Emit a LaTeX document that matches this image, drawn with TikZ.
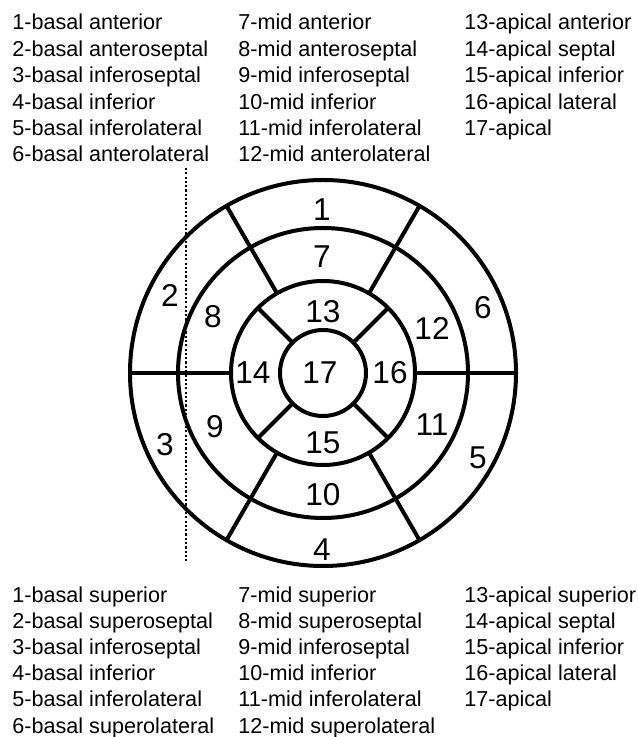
\documentclass[tikz,border=0pt]{standalone}
\usepackage{fontspec}
\setmainfont{Liberation Sans}
\begin{document}
\begin{tikzpicture}[x=0.5pt,y=0.5pt,
    ring/.style={line width=2pt},
    segno/.style={font=\fontsize{15.8}{17}\selectfont, inner sep=0pt},
    legend/.style={anchor=base west, inner sep=0pt, font=\fontsize{10.8}{13}\selectfont}]
    \useasboundingbox (-323,-364) rectangle (314,373);
    % rings of the bull's eye
    \foreach \r in {193,145,92,43}
        \draw[ring] (0,0) circle (\r);
    \foreach \a in {0,60,...,300}
        \draw[ring] (\a:92) -- (\a:193);
    \foreach \a in {45,135,225,315}
        \draw[ring] (\a:43) -- (\a:92);
    % dotted line
    \draw[line width=1.2pt, dash pattern=on 1.1pt off 1.05pt] (-137,205) -- (-137,-190);
    % segment numbers
    \node[segno] (s1) at (-1,163) {1};
    \node[segno] (s2) at (-153,78) {2};
    \node[segno] (s3) at (-158,-72) {3};
    \node[segno] (s4) at (-1,-177) {4};
    \node[segno] (s5) at (155,-85) {5};
    \node[segno] (s6) at (160,65) {6};
    \node[segno] (s7) at (-1,116) {7};
    \node[segno] (s8) at (-110,56) {8};
    \node[segno] (s9) at (-108,-54) {9};
    \node[segno] (s10) at (0,-122) {10};
    \node[segno] (s11) at (109,-52) {11};
    \node[segno] (s12) at (109,45) {12};
    \node[segno] (s13) at (0,61) {13};
    \node[segno] (s14) at (-70,0) {14};
    \node[segno] (s15) at (0,-70) {15};
    \node[segno] (s16) at (67,0) {16};
    \node[segno] (s17) at (-3,0) {17};
    % legend above
    \foreach \t [count=\i] in {1-basal anterior,2-basal anteroseptal,3-basal inferoseptal,
            4-basal inferior,5-basal inferolateral,6-basal anterolateral}
        \node[legend] (ta\i) at (-311,369.4-26.4*\i) {\t};
    \foreach \t [count=\i] in {7-mid anterior,8-mid anteroseptal,9-mid inferoseptal,
            10-mid inferior,11-mid inferolateral,12-mid anterolateral}
        \node[legend] (tb\i) at (-85,369.4-26.4*\i) {\t};
    \foreach \t [count=\i] in {13-apical anterior,14-apical septal,15-apical inferior,
            16-apical lateral,17-apical}
        \node[legend] (tc\i) at (141,369.4-26.4*\i) {\t};
    % legend below
    \foreach \t [count=\i] in {1-basal superior,2-basal superoseptal,3-basal inferoseptal,
            4-basal inferior,5-basal inferolateral,6-basal superolateral}
        \node[legend] (ba\i) at (-311,-202.8-26.2*\i) {\t};
    \foreach \t [count=\i] in {7-mid superior,8-mid superoseptal,9-mid inferoseptal,
            10-mid inferior,11-mid inferolateral,12-mid superolateral}
        \node[legend] (bb\i) at (-85,-202.8-26.2*\i) {\t};
    \foreach \t [count=\i] in {13-apical superior,14-apical septal,15-apical inferior,
            16-apical lateral,17-apical}
        \node[legend] (bc\i) at (141,-202.8-26.2*\i) {\t};
\end{tikzpicture}
\end{document}
